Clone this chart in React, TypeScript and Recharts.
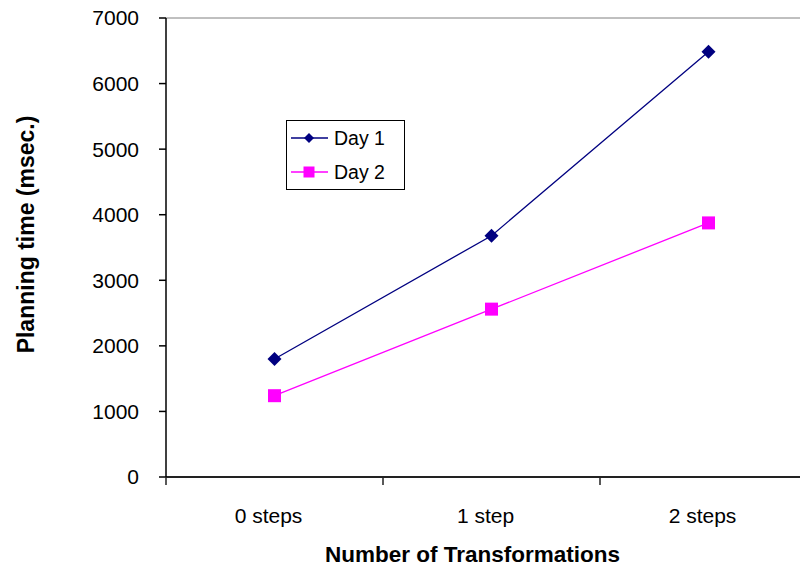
import { LineChart, Line, XAxis, YAxis, Legend, ReferenceLine, Label } from 'recharts';

const categories = ['0 steps', '1 step', '2 steps'];
const day1 = [1800, 3680, 6485];
const day2 = [1240, 2560, 3875];
const yTicks = [0, 1000, 2000, 3000, 4000, 5000, 6000, 7000];

const NAVY = '#000080';
const MAGENTA = '#FF00FF';
const FONT = '"Liberation Sans", Arial, sans-serif';

// categories sit in the middle of each unit band, tick marks at the band edges
const rows = categories.map((name, i) => ({
  x: i + 0.5,
  name,
  day1: day1[i],
  day2: day2[i],
}));
const xTicks = [0, 0.5, 1, 1.5, 2, 2.5, 3];

function DiamondDot(props: any) {
  const { cx, cy, size = 7, fill = NAVY } = props;
  if (cx == null || cy == null) return null;
  return (
    <path
      d={`M${cx},${cy - size} L${cx + size},${cy} L${cx},${cy + size} L${cx - size},${cy} Z`}
      fill={fill}
    />
  );
}

function SquareDot(props: any) {
  const { cx, cy, size = 6.5, fill = MAGENTA } = props;
  if (cx == null || cy == null) return null;
  return <rect x={cx - size} y={cy - size} width={size * 2} height={size * 2} fill={fill} />;
}

function XTick(props: any) {
  const { x, y, payload } = props;
  const v = payload.value as number;
  if (Number.isInteger(v)) {
    return <line x1={x} y1={y} x2={x} y2={y + 8} stroke="#222" strokeWidth={1.5} />;
  }
  return (
    <text x={x - 6} y={y + 46} textAnchor="middle" fontSize={21} fontFamily={FONT} fill="#000">
      {categories[Math.floor(v)]}
    </text>
  );
}

function YTitle(props: any) {
  const { viewBox } = props;
  const cx = viewBox.x + 18;
  const cy = viewBox.y + viewBox.height / 2 - 13;
  return (
    <text
      x={cx}
      y={cy}
      transform={`rotate(-90 ${cx} ${cy})`}
      textAnchor="middle"
      dominantBaseline="central"
      fontSize={23}
      fontWeight="bold"
      fontFamily={FONT}
      fill="#000"
    >
      Planning time (msec.)
    </text>
  );
}

function XTitle(props: any) {
  const { viewBox } = props;
  return (
    <text
      x={viewBox.x + viewBox.width / 2 - 19}
      y={viewBox.y + 85}
      textAnchor="middle"
      fontSize={22.5}
      fontWeight="bold"
      fontFamily={FONT}
      fill="#000"
    >
      Number of Transformations
    </text>
  );
}

const legendItems = [
  { name: 'Day 1', color: NAVY, Marker: DiamondDot, size: 5 },
  { name: 'Day 2', color: MAGENTA, Marker: SquareDot, size: 5.5 },
];

function LegendBox() {
  return (
    <div
      style={{
        border: '1px solid #000',
        background: '#fff',
        width: 117,
        fontFamily: FONT,
        fontSize: 19.5,
        color: '#000',
      }}
    >
      {legendItems.map(({ name, color, Marker, size }) => (
        <div key={name} style={{ height: 34, display: 'flex', alignItems: 'center', paddingLeft: 4 }}>
          <svg width={38} height={14} style={{ display: 'block' }}>
            <line x1={0} y1={7} x2={37} y2={7} stroke={color} strokeWidth={1.3} />
            <Marker cx={18} cy={7} size={size} fill={color} />
          </svg>
          <span style={{ marginLeft: 5, lineHeight: '20px' }}>{name}</span>
        </div>
      ))}
    </div>
  );
}

export default function App() {
  return (
    <div style={{ width: 800, height: 571, marginTop: -8, overflow: 'hidden', background: '#fff' }}>
      <LineChart width={820} height={571} data={rows} margin={{ top: 18, right: 11, bottom: 0, left: 0 }}>
        <XAxis
          dataKey="x"
          type="number"
          domain={[0, 3]}
          ticks={xTicks}
          interval={0}
          tickLine={false}
          tickSize={0}
          tickMargin={0}
          tick={<XTick />}
          height={94}
          axisLine={{ stroke: '#222', strokeWidth: 2 }}
        >
          <Label content={<XTitle />} />
        </XAxis>
        <YAxis
          type="number"
          domain={[0, 7000]}
          ticks={yTicks}
          interval={0}
          width={158}
          tickSize={7}
          tickMargin={20}
          tick={{ fontSize: 21, fontFamily: FONT, fill: '#000' }}
          tickLine={{ stroke: '#000', strokeWidth: 1.5 }}
          axisLine={{ stroke: '#000', strokeWidth: 1.5 }}
        >
          <Label content={<YTitle />} />
        </YAxis>
        <ReferenceLine y={7000} stroke="#808080" strokeWidth={1} />
        <Legend
          layout="vertical"
          align="center"
          verticalAlign="middle"
          content={<LegendBox />}
          wrapperStyle={{ left: 278, top: 120, width: 'auto', height: 'auto' }}
        />
        <Line
          dataKey="day1"
          name="Day 1"
          stroke={NAVY}
          strokeWidth={1.3}
          dot={(p: any) => <DiamondDot key={`d1-${p.index}`} cx={p.cx} cy={p.cy} />}
          activeDot={false}
          isAnimationActive={false}
        />
        <Line
          dataKey="day2"
          name="Day 2"
          stroke={MAGENTA}
          strokeWidth={1.3}
          dot={(p: any) => <SquareDot key={`d2-${p.index}`} cx={p.cx} cy={p.cy} />}
          activeDot={false}
          isAnimationActive={false}
        />
      </LineChart>
    </div>
  );
}
